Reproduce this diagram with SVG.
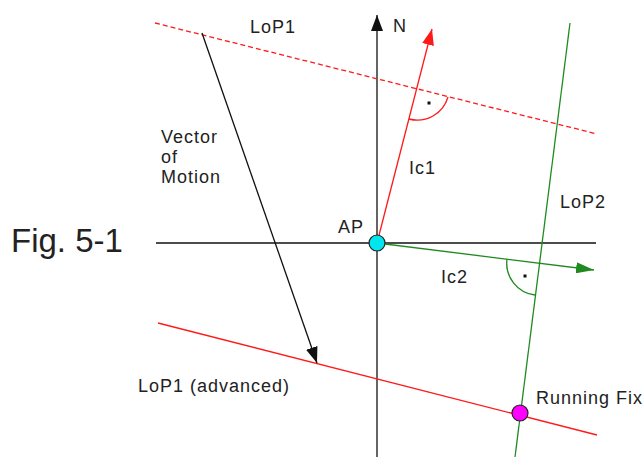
<svg xmlns="http://www.w3.org/2000/svg" width="642" height="457" viewBox="0 0 642 457">
<style>
text{font-family:"Liberation Sans",Arial,sans-serif;font-size:18px;fill:#222;letter-spacing:1px}
.blk{stroke:#111;stroke-width:1.3;fill:none}
.red{stroke:#ff1a1a;stroke-width:1.3;fill:none}
.grn{stroke:#1f8a1f;stroke-width:1.3;fill:none}
.dash{stroke-dasharray:5 3}
</style>
<defs>
<marker id="ab" viewBox="0 0 16 12" refX="16" refY="6" markerWidth="16" markerHeight="12" markerUnits="userSpaceOnUse" orient="auto"><path d="M0,0 L16,6 L0,12 z" fill="#111"/></marker>
<marker id="ar" viewBox="0 0 16 12" refX="16" refY="6" markerWidth="16" markerHeight="12" markerUnits="userSpaceOnUse" orient="auto"><path d="M0,0 L16,6 L0,12 z" fill="#ff1a1a"/></marker>
<marker id="ag" viewBox="0 0 18 11" refX="18" refY="5.5" markerWidth="18" markerHeight="11" markerUnits="userSpaceOnUse" orient="auto"><path d="M0,0 L18,5.5 L0,11 z" fill="#1f8a1f"/></marker>
</defs>
<g id="connectors">
<line class="blk" x1="377" y1="457" x2="377" y2="15" marker-end="url(#ab)"/>
<line class="blk" x1="156" y1="243" x2="596" y2="243"/>
<line class="red dash" x1="155" y1="23" x2="597" y2="134"/>
<line class="red" x1="158" y1="323" x2="597" y2="435"/>
<line class="grn" x1="570" y1="23" x2="515" y2="457"/>
<line class="blk" x1="202" y1="33" x2="317" y2="363" marker-end="url(#ab)"/>
<line class="red" x1="377" y1="243" x2="432" y2="29" marker-end="url(#ar)"/>
<line class="grn" x1="377" y1="243" x2="594" y2="270" marker-end="url(#ag)"/>
<path class="red" d="M409,119 A32,32 0 0 0 448,97"/>
<rect x="427.5" y="101.5" width="3" height="3" fill="#111"/>
<path class="grn" d="M507,259 A32,32 0 0 0 535,295"/>
<rect x="523.5" y="274.5" width="3" height="3" fill="#111"/>
</g>
<g id="AP"><circle cx="377" cy="243" r="8" fill="#00e5ee" stroke="#222" stroke-width="1.2"/><text x="338" y="233">AP</text></g>
<g id="RunningFix"><circle cx="520" cy="413" r="8" fill="#ff00ff" stroke="#222" stroke-width="1.2"/><text x="536" y="404">Running Fix</text></g>
<g id="labels">
<text x="250" y="33">LoP1</text>
<text x="393" y="32">N</text>
<text x="161" y="143">Vector</text>
<text x="161" y="163">of</text>
<text x="161" y="183">Motion</text>
<text x="409" y="174">Ic1</text>
<text x="560" y="208">LoP2</text>
<text x="441" y="283">Ic2</text>
<text x="138" y="392">LoP1 (advanced)</text>
<text x="11" y="252" style="font-size:33px;letter-spacing:0">Fig. 5-1</text>
</g>
</svg>
